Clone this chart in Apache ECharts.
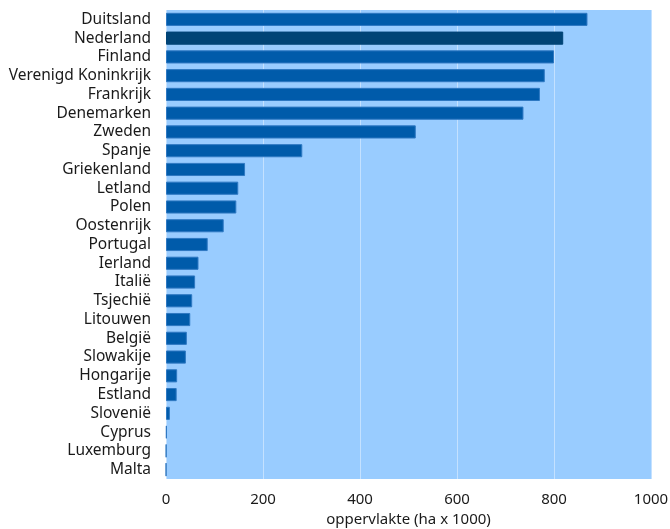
<!DOCTYPE html>
<html>
<head>
<meta charset="utf-8">
<script src="https://cdn.jsdelivr.net/npm/echarts@6/dist/echarts.min.js"></script>
<style>html,body{margin:0;padding:0;background:#fff}#c{width:670px;height:529px}</style>
</head>
<body>
<div id="c"></div>
<script>
const categories = ["Duitsland","Nederland","Finland","Verenigd Koninkrijk","Frankrijk","Denemarken","Zweden","Spanje","Griekenland","Letland","Polen","Oostenrijk","Portugal","Ierland","Italië","Tsjechië","Litouwen","België","Slowakije","Hongarije","Estland","Slovenië","Cyprus","Luxemburg","Malta"];
const values = [869, 819, 800, 781, 771, 737, 515, 281, 163, 149, 145, 119, 86, 67, 60, 54, 50, 43, 41, 23, 22, 8, 1.5, 0.6, 0.3];
const highlight = "Nederland";
const xTicks = [0, 200, 400, 600, 800, 1000];

const chart = echarts.init(document.getElementById('c'), null, {renderer: 'canvas'});
const font = "'Noto Sans', sans-serif";
chart.setOption({
  animation: false,
  grid: {left: 166, right: 19, top: 10, bottom: 50, show: true, backgroundColor: '#99CCFF', borderWidth: 0, containLabel: false, outerBoundsMode: 'none'},
  xAxis: {
    type: 'value', min: xTicks[0], max: xTicks[xTicks.length-1], interval: 200,
    axisLine: {show: false}, axisTick: {show: false},
    splitLine: {show: true, lineStyle: {color: '#C4E1FF', width: 1}},
    axisLabel: {color: '#1a1a1a', fontFamily: font, fontSize: 15, margin: 13, formatter: v => String(v)},
    name: 'oppervlakte (ha x 1000)', nameLocation: 'middle', nameGap: 27,
    nameTextStyle: {color: '#1a1a1a', fontFamily: font, fontSize: 15}
  },
  yAxis: {
    type: 'category', data: categories, inverse: true,
    axisLine: {show: false}, axisTick: {show: false},
    axisLabel: {color: '#1a1a1a', fontFamily: font, fontSize: 15.5, margin: 15, interval: 0}
  },
  series: [{
    type: 'bar',
    barCategoryGap: '30%',
    data: values.map((v, i) => ({
      value: v,
      itemStyle: {
        color: categories[i] === highlight ? '#004477' : '#005BAA',
        borderColor: categories[i] === highlight ? '#004477' : '#2E78C2',
        borderWidth: 1
      }
    }))
  }]
});
</script>
</body>
</html>
